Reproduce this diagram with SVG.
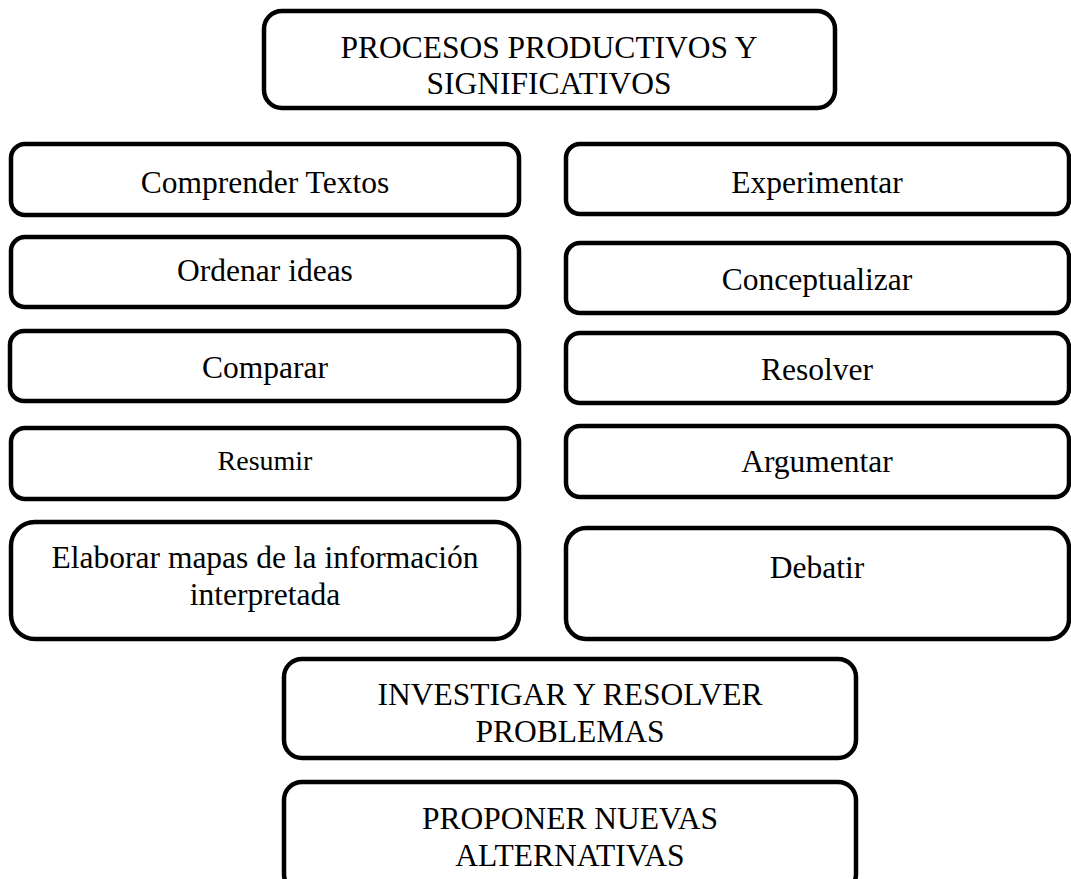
<svg xmlns="http://www.w3.org/2000/svg" width="1071" height="879" viewBox="0 0 1071 879">
<style>
.box{fill:#fff;stroke:#000;stroke-width:4.5}
.t{font-family:"Liberation Serif","Times New Roman",serif;font-size:31.5px;fill:#000;text-anchor:middle}
.s{font-size:28px}
</style>
<rect width="1071" height="879" fill="#fff"/>
<g id="n-top"><rect class="box" x="264" y="11" width="571" height="97" rx="18"/><text class="t" x="549" y="58">PROCESOS PRODUCTIVOS Y</text><text class="t" x="549" y="94">SIGNIFICATIVOS</text></g>
<g id="n-comprender"><rect class="box" x="11" y="144" width="508" height="71" rx="14"/><text class="t" x="265" y="193">Comprender Textos</text></g>
<g id="n-ordenar"><rect class="box" x="11" y="237" width="508" height="70" rx="14"/><text class="t" x="265" y="281">Ordenar ideas</text></g>
<g id="n-comparar"><rect class="box" x="10" y="331" width="509" height="70" rx="14"/><text class="t" x="265" y="378">Comparar</text></g>
<g id="n-resumir"><rect class="box" x="11" y="428" width="508" height="71" rx="14"/><text class="t s" x="265" y="470">Resumir</text></g>
<g id="n-elaborar"><rect class="box" x="11" y="522" width="508" height="117" rx="24"/><text class="t" x="265" y="568">Elaborar mapas de la información</text><text class="t" x="265" y="605">interpretada</text></g>
<g id="n-experimentar"><rect class="box" x="566" y="144" width="503" height="70" rx="14"/><text class="t" x="817" y="193">Experimentar</text></g>
<g id="n-conceptualizar"><rect class="box" x="566" y="243" width="503" height="70" rx="14"/><text class="t" x="817" y="290">Conceptualizar</text></g>
<g id="n-resolver"><rect class="box" x="566" y="333" width="503" height="70" rx="14"/><text class="t" x="817" y="380">Resolver</text></g>
<g id="n-argumentar"><rect class="box" x="566" y="426" width="503" height="71" rx="14"/><text class="t" x="817" y="472">Argumentar</text></g>
<g id="n-debatir"><rect class="box" x="566" y="528" width="503" height="111" rx="20"/><text class="t" x="817" y="578">Debatir</text></g>
<g id="n-investigar"><rect class="box" x="284" y="659" width="572" height="99" rx="18"/><text class="t" x="570" y="705">INVESTIGAR Y RESOLVER</text><text class="t" x="570" y="742">PROBLEMAS</text></g>
<g id="n-proponer"><rect class="box" x="284" y="782" width="572" height="110" rx="18"/><text class="t" x="570" y="829">PROPONER NUEVAS</text><text class="t" x="570" y="866">ALTERNATIVAS</text></g>
<g id="connectors"></g>
</svg>
